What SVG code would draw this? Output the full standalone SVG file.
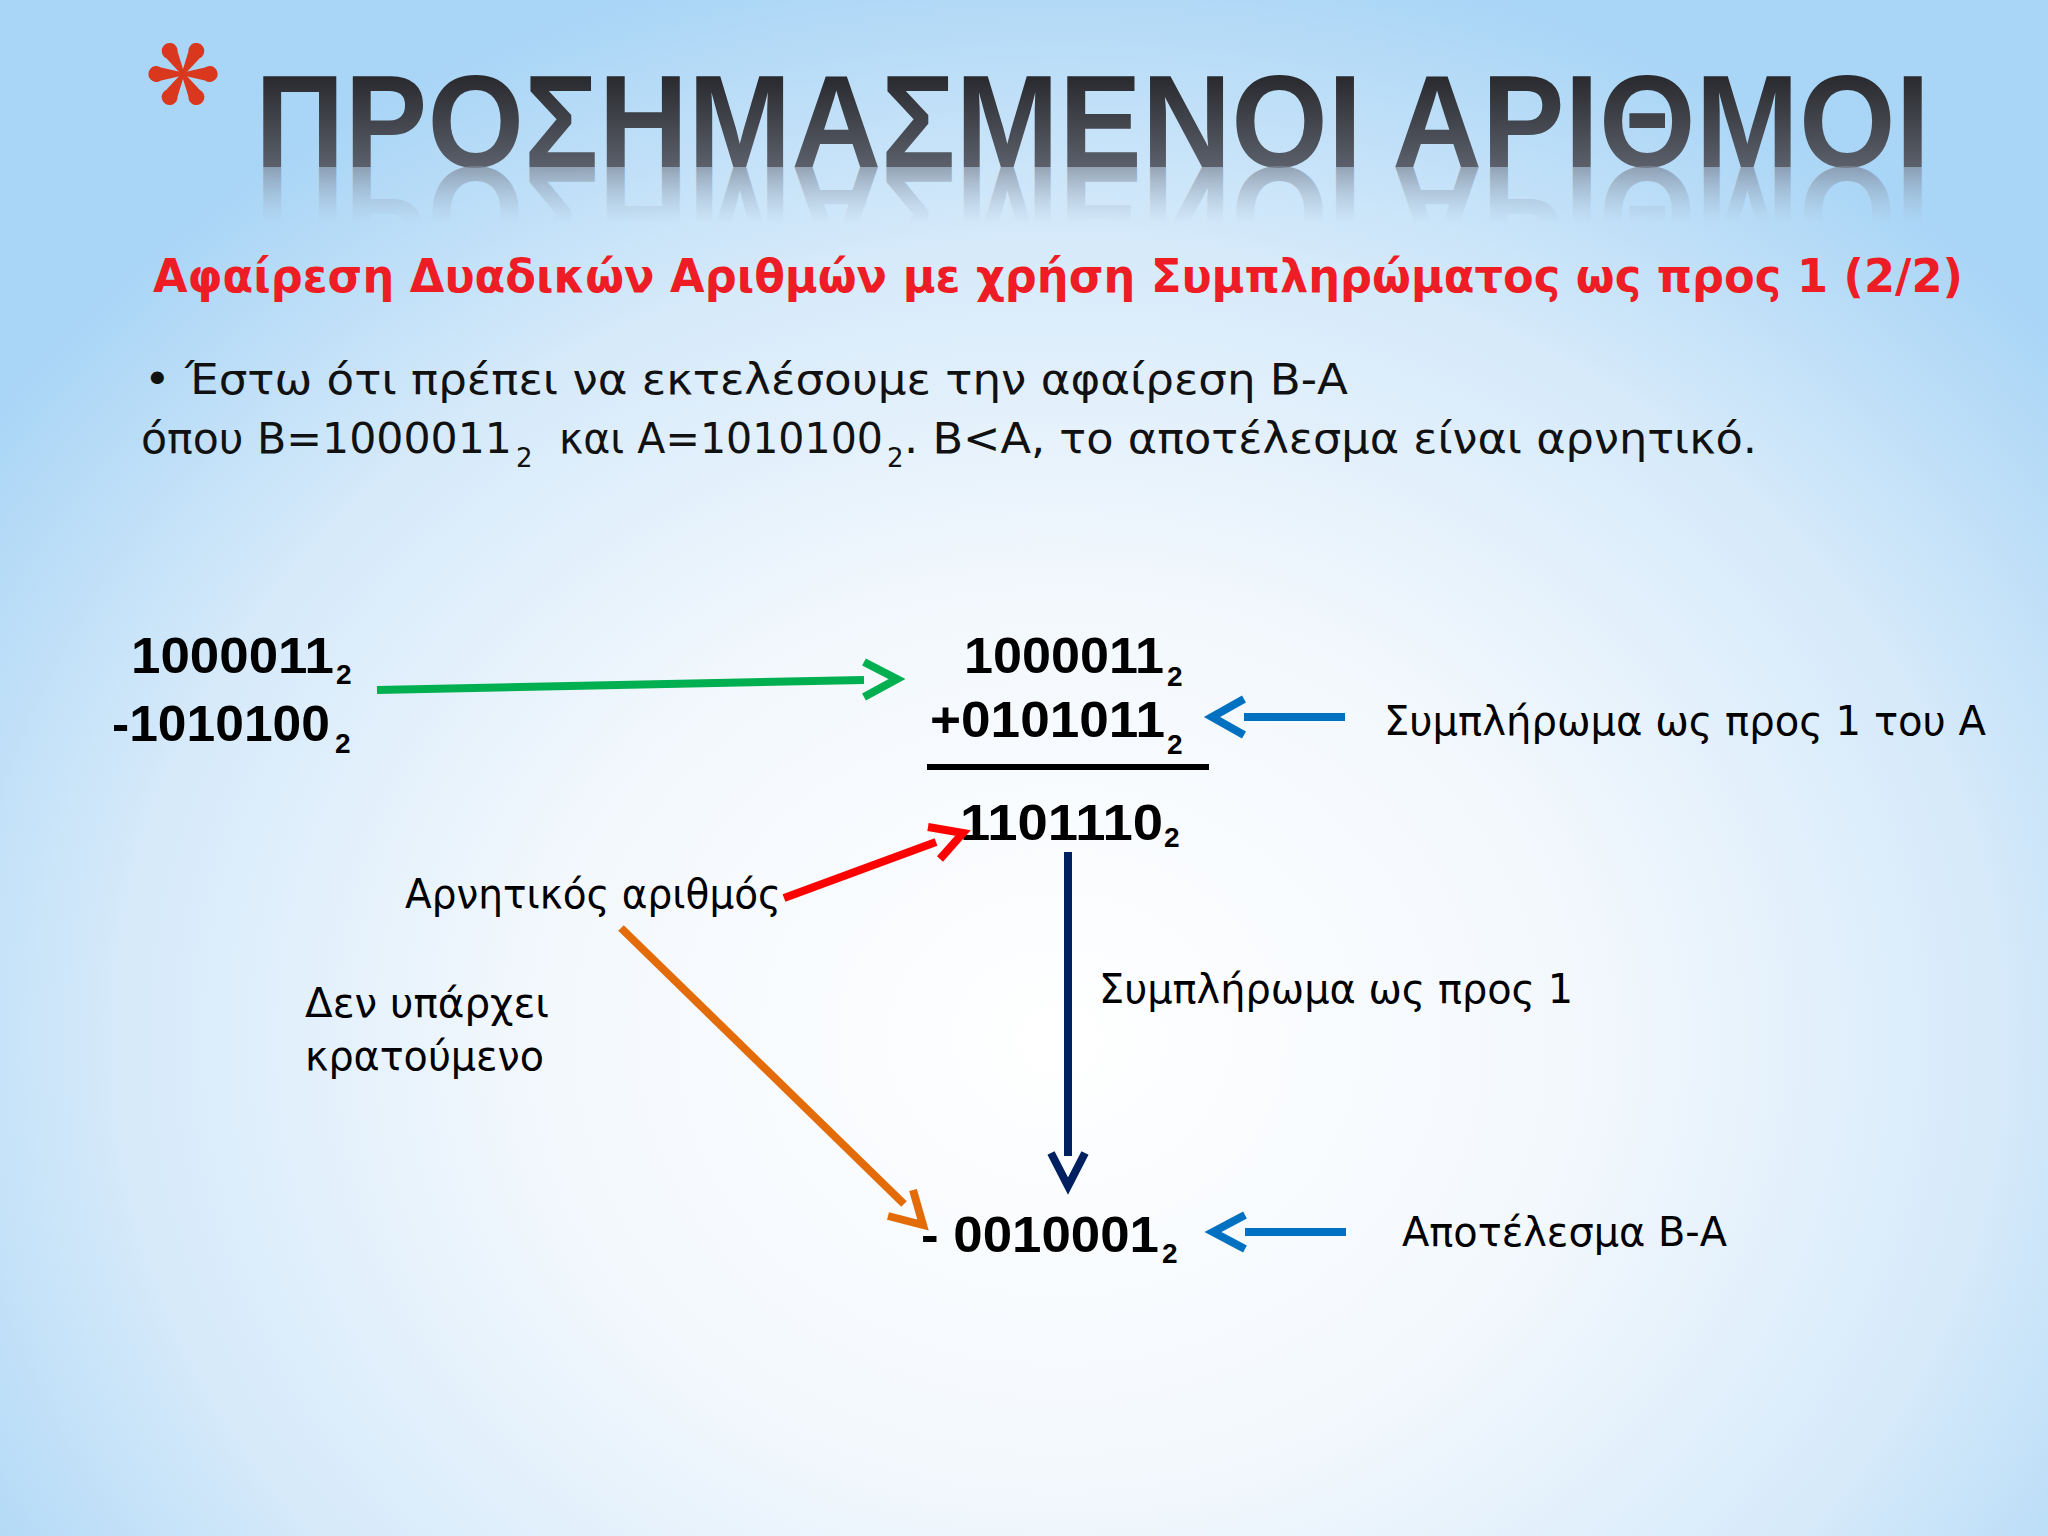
<svg xmlns="http://www.w3.org/2000/svg" width="2048" height="1536" viewBox="0 0 2048 1536">
<defs>
<radialGradient id="bg" gradientUnits="userSpaceOnUse" cx="1060" cy="1040" r="1300" gradientTransform="translate(1060 1040) scale(1 0.85) translate(-1060 -1040)">
<stop offset="0" stop-color="#ffffff"/>
<stop offset="0.4" stop-color="#f3f8fd"/>
<stop offset="0.72" stop-color="#d6eafa"/>
<stop offset="1" stop-color="#a9d5f6"/>
</radialGradient>
<linearGradient id="tg" gradientUnits="userSpaceOnUse" x1="0" y1="72" x2="0" y2="167">
<stop offset="0" stop-color="#27272b"/>
<stop offset="1" stop-color="#5b606b"/>
</linearGradient>
<linearGradient id="rg" gradientUnits="userSpaceOnUse" x1="0" y1="167" x2="0" y2="110">
<stop offset="0" stop-color="#7d8797" stop-opacity="0.7"/>
<stop offset="1" stop-color="#a8b8cc" stop-opacity="0"/>
</linearGradient>
<path id="petal" d="M0,-1.5 L22,-6.5 A8 8 0 1 1 22,6.5 L0,1.5 Z"/>
</defs>
<style>
.title{font-family:"Liberation Sans",Arial,sans-serif;font-weight:bold;font-size:132px}
.sub{font-family:"DejaVu Sans",Verdana,sans-serif;font-weight:bold;font-size:46px;fill:#ee1c24}
.body{font-family:"DejaVu Sans",Verdana,sans-serif;font-size:42px;fill:#111}
.sb{font-family:"DejaVu Sans",Verdana,sans-serif;font-size:26px;fill:#111}
.lbl{font-family:"DejaVu Sans",Verdana,sans-serif;font-size:40px;fill:#000}
.num{font-family:"Liberation Sans",Arial,sans-serif;font-weight:bold;font-size:50px;fill:#000}
.nsub{font-family:"Liberation Sans",Arial,sans-serif;font-weight:bold;font-size:28px;fill:#000}
.c{fill:none;stroke-width:8;stroke-linejoin:miter}
</style>
<rect width="2048" height="1536" fill="url(#bg)"/>

<g id="asterisk" fill="#d9381e" transform="translate(183 74)">
<use href="#petal"/>
<use href="#petal" transform="rotate(60)"/>
<use href="#petal" transform="rotate(120)"/>
<use href="#petal" transform="rotate(180)"/>
<use href="#petal" transform="rotate(240)"/>
<use href="#petal" transform="rotate(300)"/>
</g>

<g id="title">
<g fill="url(#tg)">
<text id="titleText" class="title" x="255" y="167" textLength="1675" lengthAdjust="spacingAndGlyphs">ΠΡΟΣΗΜΑΣΜΕΝΟΙ ΑΡΙΘΜΟΙ</text>
</g>
<use href="#titleText" fill="url(#rg)" transform="translate(0 334) scale(1 -1)"/>
</g>

<g id="subtitle">
<text class="sub" x="153" y="292" textLength="1810" lengthAdjust="spacingAndGlyphs">Αφαίρεση Δυαδικών Αριθμών με χρήση Συμπληρώματος ως προς 1 (2/2)</text>
</g>

<g id="intro">
<text class="body" x="144" y="394" textLength="1204" lengthAdjust="spacingAndGlyphs">• Έστω ότι πρέπει να εκτελέσουμε την αφαίρεση Β-Α</text>
<text class="body" x="141" y="453" textLength="371" lengthAdjust="spacingAndGlyphs">όπου Β=1000011</text>
<text class="sb" x="516" y="467">2</text>
<text class="body" x="559" y="453" textLength="324" lengthAdjust="spacingAndGlyphs">και Α=1010100</text>
<text class="sb" x="887" y="467">2</text>
<text class="body" x="904" y="453" textLength="853" lengthAdjust="spacingAndGlyphs">. Β&lt;Α, το αποτέλεσμα είναι αρνητικό.</text>
</g>

<g id="operands-left">
<text class="num" x="131" y="673" textLength="203" lengthAdjust="spacingAndGlyphs">1000011</text>
<text class="nsub" x="336" y="684">2</text>
<text class="num" x="112" y="741" textLength="218" lengthAdjust="spacingAndGlyphs">-1010100</text>
<text class="nsub" x="335" y="753">2</text>
</g>

<g id="sum">
<text class="num" x="964" y="673" textLength="200" lengthAdjust="spacingAndGlyphs">1000011</text>
<text class="nsub" x="1167" y="686">2</text>
<text class="num" x="930" y="737" textLength="235" lengthAdjust="spacingAndGlyphs">+0101011</text>
<text class="nsub" x="1167" y="754">2</text>
<line x1="927" y1="767" x2="1209" y2="767" stroke="#000" stroke-width="6"/>
<text class="num" x="960" y="840" textLength="203" lengthAdjust="spacingAndGlyphs">1101110</text>
<text class="nsub" x="1164" y="847">2</text>
</g>

<g id="result">
<text class="num" x="921" y="1252" textLength="238" lengthAdjust="spacingAndGlyphs">- 0010001</text>
<text class="nsub" x="1162" y="1263">2</text>
</g>

<g id="labels">
<text class="lbl" x="1384" y="735" textLength="602" lengthAdjust="spacingAndGlyphs">Συμπλήρωμα ως προς 1 του Α</text>
<text class="lbl" x="405" y="908" textLength="376" lengthAdjust="spacingAndGlyphs">Αρνητικός αριθμός</text>
<text class="lbl" x="305" y="1017" textLength="244" lengthAdjust="spacingAndGlyphs">Δεν υπάρχει</text>
<text class="lbl" x="305" y="1070" textLength="239" lengthAdjust="spacingAndGlyphs">κρατούμενο</text>
<text class="lbl" x="1099" y="1003" textLength="474" lengthAdjust="spacingAndGlyphs">Συμπλήρωμα ως προς 1</text>
<text class="lbl" x="1402" y="1246" textLength="325" lengthAdjust="spacingAndGlyphs">Αποτέλεσμα Β-Α</text>
</g>

<g id="connectors">
<g stroke="#00b050" class="c">
<line x1="377" y1="690" x2="864" y2="680"/>
<polyline points="864,662 897,679 864,697"/>
</g>
<g stroke="#0070c0" class="c">
<line x1="1244" y1="717" x2="1345" y2="717"/>
<polyline points="1244,699 1212,717 1244,735"/>
</g>
<g stroke="#ff0000" class="c">
<line x1="784" y1="898" x2="936" y2="842"/>
<polyline points="928,827 963,833 940,859"/>
</g>
<g stroke="#e36c09" class="c">
<line x1="621" y1="928" x2="904" y2="1204"/>
<polyline points="913,1190 923,1225 888,1216"/>
</g>
<g stroke="#002060" class="c">
<line x1="1068" y1="852" x2="1068" y2="1156"/>
<polyline points="1051,1153 1068,1186 1085,1153"/>
</g>
<g stroke="#0070c0" class="c">
<line x1="1245" y1="1232" x2="1346" y2="1232"/>
<polyline points="1245,1215 1213,1232 1245,1249"/>
</g>
</g>
</svg>
